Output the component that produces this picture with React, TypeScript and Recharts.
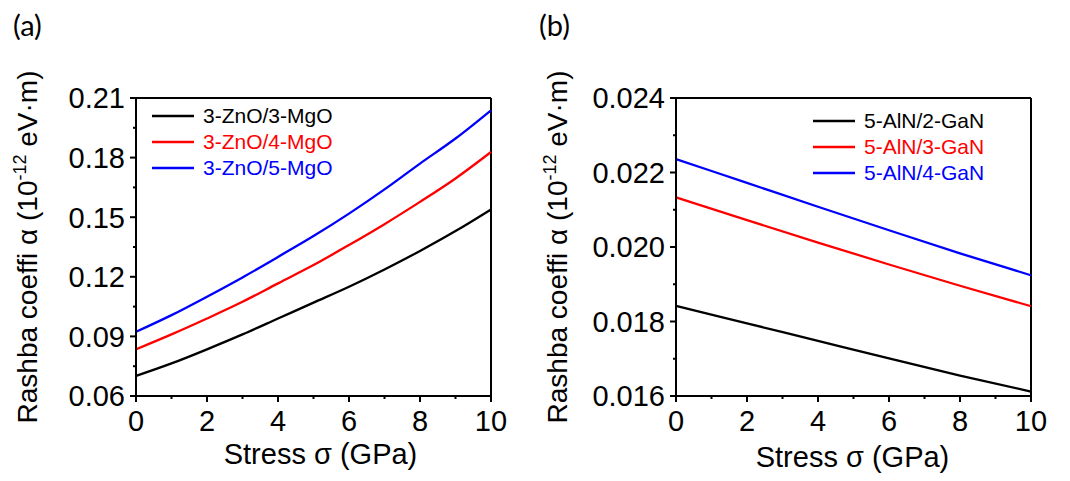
import React from "react";
import { Legend, Line, LineChart, ReferenceLine, XAxis, YAxis } from "recharts";

// panel (a): ZnO/MgO superlattices
const stressA = [0, 1, 2, 3, 4, 5, 6, 7, 8, 9, 10];
const zno3Mgo3 = [0.0701, 0.0764, 0.0835, 0.091, 0.099, 0.107, 0.115, 0.1237, 0.133, 0.143, 0.1539];
const zno3Mgo4 = [0.0835, 0.091, 0.099, 0.1074, 0.1167, 0.1259, 0.136, 0.1465, 0.1577, 0.1695, 0.1828];
const zno3Mgo5 = [0.0923, 0.1007, 0.11, 0.1197, 0.13, 0.1405, 0.1518, 0.164, 0.177, 0.1896, 0.2038];

// panel (b): AlN/GaN superlattices
const stressB = [0, 2, 4, 6, 8, 10];
const aln5Gan2 = [0.01842, 0.01795, 0.01748, 0.01701, 0.01655, 0.01612];
const aln5Gan3 = [0.02133, 0.02072, 0.02012, 0.01953, 0.01896, 0.01841];
const aln5Gan4 = [0.02236, 0.02172, 0.02108, 0.02045, 0.01983, 0.01924];

const xMajor = [0, 2, 4, 6, 8, 10];
const xMinor = [1, 3, 5, 7, 9];
const yMajorA = [0.06, 0.09, 0.12, 0.15, 0.18, 0.21];
const yMinorA = [0.075, 0.105, 0.135, 0.165, 0.195];
const yMajorB = [0.016, 0.018, 0.02, 0.022, 0.024];
const yMinorB = [0.017, 0.019, 0.021, 0.023];

const FONT = "'Liberation Sans', Arial, sans-serif";

const rowsA = stressA.map((x, i) => ({ x, s1: zno3Mgo3[i], s2: zno3Mgo4[i], s3: zno3Mgo5[i] }));
const rowsB = stressB.map((x, i) => ({ x, s1: aln5Gan2[i], s2: aln5Gan3[i], s3: aln5Gan4[i] }));

const isIn = (list: number[], v: number) => list.some((m) => Math.abs(m - v) < 1e-9);

const xTick = (props: any) => {
  const { x, y, payload } = props;
  const major = isIn(xMajor, payload.value);
  return (
    <g>
      <line x1={x} x2={x} y1={y} y2={y + (major ? 6 : 3)} stroke="#000" strokeWidth={2} />
      {major && (
        <text x={x} y={y + 35} textAnchor="middle" fontSize={29} fill="#000" fontFamily={FONT}>
          {payload.value}
        </text>
      )}
    </g>
  );
};

function yTick(majors: number[], digits: number) {
  return (props: any) => {
    const { x, y, payload } = props;
    const major = isIn(majors, payload.value);
    return (
      <g>
        <line x1={x} x2={x - (major ? 6 : 3)} y1={y} y2={y} stroke="#000" strokeWidth={2} />
        {major && (
          <text x={x - 11} y={y} dy="0.36em" textAnchor="end" fontSize={29} fill="#000" fontFamily={FONT}>
            {payload.value.toFixed(digits)}
          </text>
        )}
      </g>
    );
  };
}

const YTitle = (props: any) => {
  const { viewBox } = props;
  const cx = viewBox.x + 37;
  const cy = viewBox.y + viewBox.height / 2;
  return (
    <text
      x={cx}
      y={cy}
      transform={`rotate(-90, ${cx}, ${cy})`}
      textAnchor="middle"
      fontSize={28}
      fill="#000"
      fontFamily={FONT}
    >
      Rashba coeffi α (10
      <tspan fontSize={18} dy={-11}>-12</tspan>
      <tspan dy={11}> eV·m)</tspan>
    </text>
  );
};

function xTitle(dx: number, dy: number) {
  return (props: any) => {
    const { viewBox } = props;
    return (
      <text
        x={viewBox.x + viewBox.width / 2 + dx}
        y={viewBox.y + dy}
        textAnchor="middle"
        fontSize={29}
        fill="#000"
        fontFamily={FONT}
      >
        Stress σ (GPa)
      </text>
    );
  };
}

const LegendBox = (props: any) => {
  const { payload } = props;
  return (
    <div style={{ fontFamily: FONT }}>
      {(payload || []).map((p: any) => (
        <div key={p.value} style={{ display: "flex", alignItems: "center", height: 26 }}>
          <svg width={42} height={4}>
            <line x1={0} x2={42} y1={2} y2={2} stroke={p.color} strokeWidth={2.4} />
          </svg>
          <span style={{ marginLeft: 9, fontSize: 21, color: p.color, lineHeight: "26px" }}>{p.value}</span>
        </div>
      ))}
    </div>
  );
};

function Panel({
  rows,
  names,
  yDomain,
  yMajor,
  yMinor,
  digits,
  yAxisWidth,
  width,
  legendPos,
  titleDx,
  titleDy,
}: {
  rows: any[];
  names: string[];
  yDomain: [number, number];
  yMajor: number[];
  yMinor: number[];
  digits: number;
  yAxisWidth: number;
  width: number;
  legendPos: { left: number; top: number };
  titleDx: number;
  titleDy: number;
}) {
  const colors = ["#000000", "#ff0000", "#0000ff"];
  return (
    <LineChart width={width} height={481} data={rows} margin={{ top: 98, right: 39, bottom: 0, left: 0 }}>
      <XAxis
        dataKey="x"
        type="number"
        domain={[0, 10]}
        ticks={[...xMajor, ...xMinor]}
        interval={0}
        height={85}
        tickSize={0}
        tickMargin={0}
        tickLine={false}
        axisLine={{ stroke: "#000", strokeWidth: 2 }}
        tick={xTick}
        label={{ content: xTitle(titleDx, titleDy) }}
      />
      <YAxis
        type="number"
        domain={yDomain}
        ticks={[...yMajor, ...yMinor]}
        interval={0}
        width={yAxisWidth}
        tickSize={0}
        tickMargin={0}
        tickLine={false}
        axisLine={{ stroke: "#000", strokeWidth: 2 }}
        tick={yTick(yMajor, digits)}
        allowDataOverflow
        label={{ content: YTitle }}
      />
      <ReferenceLine x={10} stroke="#000" strokeWidth={2} />
      <ReferenceLine y={yDomain[1]} stroke="#000" strokeWidth={2} />
      <Legend
        layout="vertical"
        align="center"
        verticalAlign="middle"
        content={LegendBox}
        wrapperStyle={{ position: "absolute", left: legendPos.left, top: legendPos.top, width: "auto" }}
      />
      {["s1", "s2", "s3"].map((k, i) => (
        <Line
          key={k}
          dataKey={k}
          name={names[i]}
          type="monotone"
          stroke={colors[i]}
          strokeWidth={2.3}
          dot={false}
          isAnimationActive={false}
        />
      ))}
    </LineChart>
  );
}

export default function App() {
  const tag: React.CSSProperties = {
    position: "absolute",
    fontFamily: "Lato, 'Open Sans', sans-serif",
    fontSize: 29,
    lineHeight: "29px",
    color: "#000",
  };
  return (
    <div style={{ position: "absolute", left: 0, top: 0, width: 1070, height: 481, background: "#fff" }}>
      <div style={{ position: "absolute", left: 0, top: 0 }}>
        <Panel
          rows={rowsA}
          names={["3-ZnO/3-MgO", "3-ZnO/4-MgO", "3-ZnO/5-MgO"]}
          yDomain={[0.06, 0.21]}
          yMajor={yMajorA}
          yMinor={yMinorA}
          digits={2}
          yAxisWidth={136}
          width={530}
          legendPos={{ left: 152, top: 103 }}
          titleDx={7}
          titleDy={68}
        />
      </div>
      <div style={{ position: "absolute", left: 530, top: 0 }}>
        <Panel
          rows={rowsB}
          names={["5-AlN/2-GaN", "5-AlN/3-GaN", "5-AlN/4-GaN"]}
          yDomain={[0.016, 0.024]}
          yMajor={yMajorB}
          yMinor={yMinorB}
          digits={3}
          yAxisWidth={146}
          width={540}
          legendPos={{ left: 283, top: 108 }}
          titleDx={-1}
          titleDy={71}
        />
      </div>
      <div style={{ ...tag, left: 13, top: 10 }}>(a)</div>
      <div style={{ ...tag, left: 539, top: 10 }}>(b)</div>
    </div>
  );
}
